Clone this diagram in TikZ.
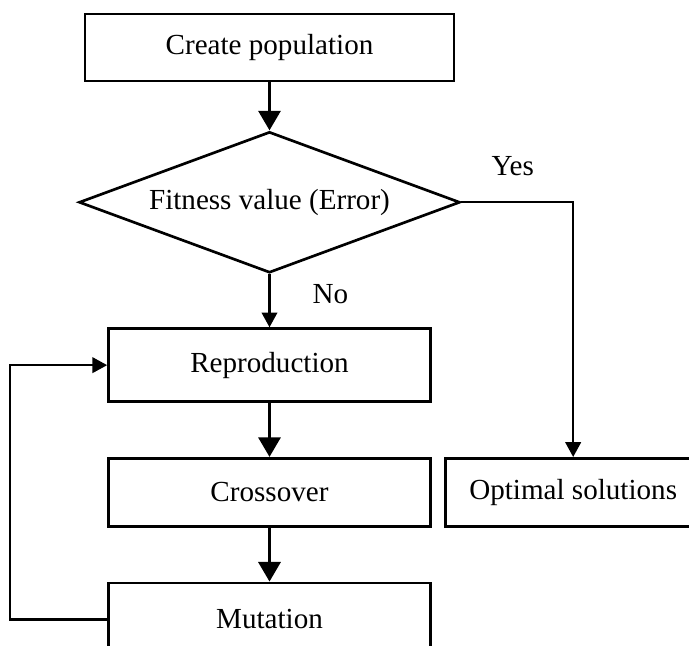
\documentclass[tikz,border=0pt]{standalone}
\usepackage{fontspec}
\setmainfont{Liberation Serif}
\usetikzlibrary{arrows.meta, positioning, shapes.geometric}

\begin{document}
\begin{tikzpicture}[
  node distance=1.35cm and 0.3cm,
  font=\fontsize{20.7}{25}\selectfont,
  box/.style={draw, line width=1.9pt, minimum width=8.05cm, minimum height=1.75cm, align=center},
  decision/.style={diamond, draw, line width=1.9pt, aspect=2.7, inner sep=1pt, minimum width=9.525cm, minimum height=3.525cm},
  bigarrow/.style={-{Triangle[length=14pt, width=15.5pt]}, line width=2.8pt},
  thinarrow/.style={-{Triangle[length=10.5pt, width=11pt]}, line width=1.7pt},
  tag/.style={inner sep=0pt}
]
  \useasboundingbox (0,0) rectangle (17.225,-16.125);
  \clip (0,0) rectangle (17.225,-16.125);

  \node[box, minimum width=9.225cm, minimum height=1.675cm] (create) at (6.7375,-1.19) {Create population};
  \node[decision, below=1.2cm of create] (fitness) {Fitness value (Error)};
  \node[box, minimum height=1.825cm, below=1.33cm of fitness] (repro) {Reproduction};
  \node[box, minimum height=1.7cm, below=1.35cm of repro] (cross) {Crossover};
  \node[box, minimum height=1.825cm, below=of cross] (mutation) {Mutation};
  \node[box, minimum width=6.4cm, minimum height=1.7cm, right=of cross] (optimal) {Optimal solutions};

  \draw[bigarrow] (create) -- (fitness);
  \draw[thinarrow] (fitness) -- node[tag, right=1.05cm, pos=0.38]{No} (repro);
  \draw[thinarrow] (fitness.east) -| node[tag, above=0.62cm, pos=0.23]{Yes} (optimal.north);
  \draw[bigarrow] (repro) -- (cross);
  \draw[bigarrow] (cross) -- (mutation);

  % loop back from mutation to reproduction
  \draw[thinarrow] (mutation.west) -- ++(-2.425cm,0) |- (repro.west);
\end{tikzpicture}
\end{document}
